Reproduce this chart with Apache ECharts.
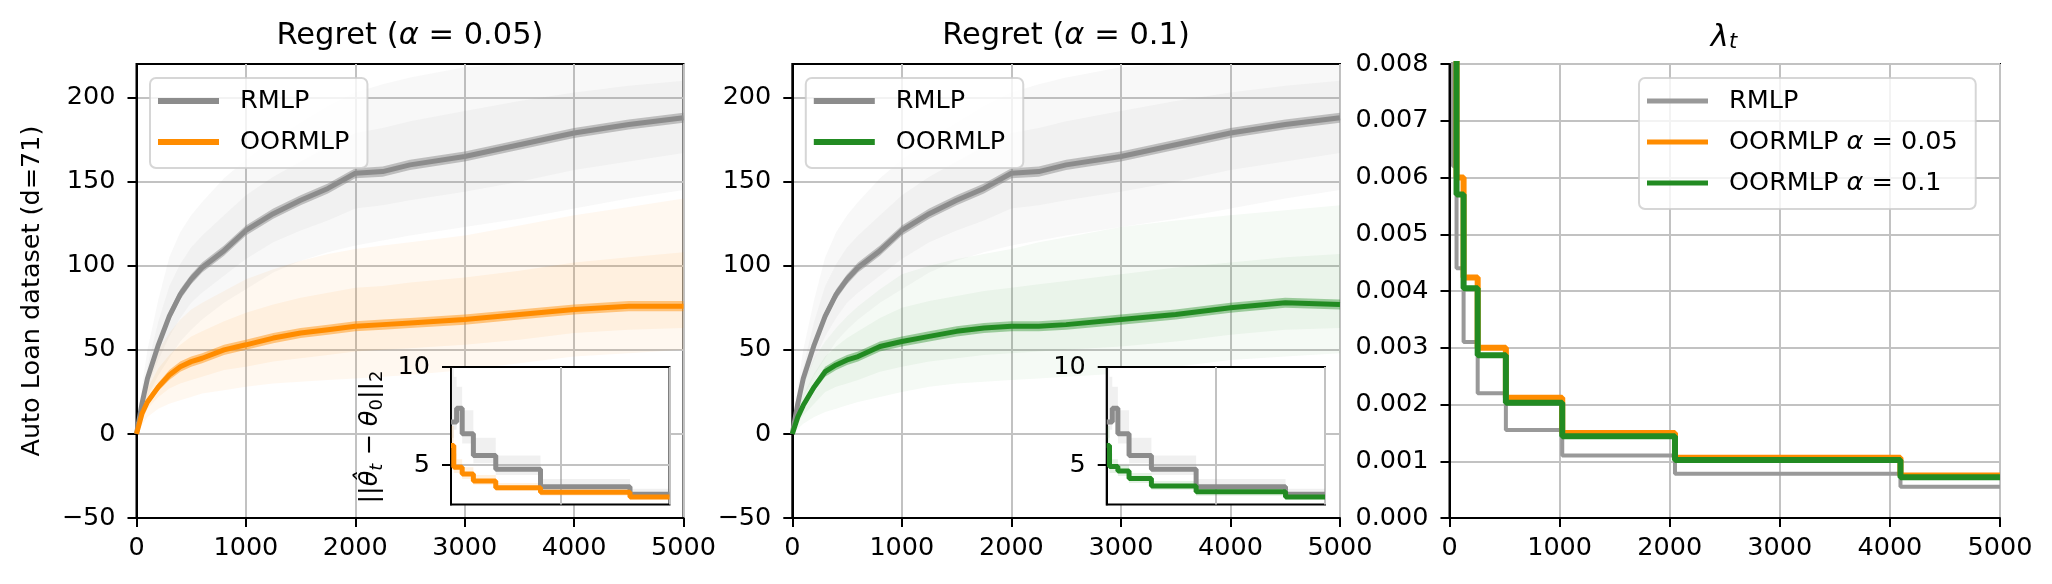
<!DOCTYPE html>
<html lang="en">
<head>
<meta charset="UTF-8">
<title>Regret / lambda</title>
<script src="https://cdn.jsdelivr.net/npm/echarts@6/dist/echarts.min.js"></script>
<style>
    html, body { margin: 0; padding: 0; background: #fff; }
    #main { width: 2052px; height: 584px; }
</style>
</head>
<body>
<div id="main"></div>
<script>
// ---------------- data ----------------
// regret curves (mean over runs), sampled at these rounds
var tGrid = [0, 50, 100, 200, 300, 400, 500, 600, 800, 1000, 1250, 1500, 1750, 2000, 2250, 2500, 3000, 3500, 4000, 4500, 5000];

var rmlpMean = [0, 18, 33, 53, 70, 83, 92, 99, 109, 121, 131, 139, 146, 155, 156, 160, 165, 172, 179, 184, 188];
var rmlpStd  = [0, 1.5, 2, 2.5, 3, 3, 3, 3, 3, 3, 3, 3, 3, 3, 3, 3, 3, 3, 3, 3, 3];
var rmlpLo   = [0, 10, 22, 35, 45, 55, 62, 68, 78, 86, 96, 103, 108, 112, 115, 118, 123, 128, 134, 140, 145];
var rmlpHi   = [0, 28, 50, 80, 105, 120, 130, 138, 152, 163, 175, 185, 195, 203, 208, 212, 218, 225, 228, 230, 232];
var rmlpQ1   = [0, 14, 28, 44, 58, 69, 78, 84, 94, 104, 114, 121, 127, 134, 136, 139, 144, 150, 157, 162, 167];
var rmlpQ3   = [0, 22, 40, 67, 88, 101, 111, 118, 130, 142, 153, 162, 171, 179, 182, 186, 192, 198, 203, 207, 210];

var oor05Mean = [0, 12, 19, 28, 35, 40, 43, 45, 50, 53, 57, 60, 62, 64, 65, 66, 68, 71, 74, 76, 76];
var oor05Std  = [0, 1.5, 2, 2.5, 3, 3, 3, 3, 3, 3, 3, 3, 3, 3, 3, 3, 3, 3, 3, 3, 3];
var oor05Lo   = [0, 5, 10, 15, 18, 20, 22, 24, 26, 28, 30, 31, 32, 33, 34, 35, 38, 42, 46, 48, 50];
var oor05Hi   = [0, 22, 35, 50, 60, 68, 74, 78, 85, 92, 98, 103, 107, 110, 112, 114, 118, 124, 130, 135, 140];
var oor05Q1   = [0, 8, 15, 22, 27, 30, 32, 34, 38, 40, 43, 45, 47, 49, 50, 51, 53, 56, 60, 62, 63];
var oor05Q3   = [0, 16, 27, 39, 47, 53, 58, 61, 67, 72, 77, 81, 84, 87, 88, 90, 93, 97, 102, 105, 108];

var oor01Mean = [0, 10, 17, 28, 37, 41, 44, 46, 52, 55, 58, 61, 63, 64, 64, 65, 68, 71, 75, 78, 77];
var oor01Std  = [0, 1.5, 2, 2.5, 3, 3, 3, 3, 3, 3, 3, 3, 3, 3, 3, 3, 3, 3, 3, 3, 3];
var oor01Lo   = [0, 3, 6, 10, 13, 15, 17, 19, 22, 25, 28, 30, 31, 32, 33, 34, 36, 40, 44, 46, 48];
var oor01Hi   = [0, 18, 30, 45, 55, 63, 70, 76, 86, 95, 100, 104, 107, 110, 114, 117, 123, 127, 130, 133, 136];
var oor01Q1   = [0, 6, 11, 18, 25, 28, 30, 32, 37, 40, 43, 45, 47, 48, 49, 50, 52, 55, 59, 62, 63];
var oor01Q3   = [0, 14, 23, 36, 46, 52, 57, 61, 69, 75, 79, 82, 85, 87, 89, 91, 95, 99, 102, 105, 107];

// inset: ||theta_hat_t - theta_0||_2, piecewise constant between these rounds
var insetT      = [0, 64, 128, 256, 512, 1024, 2048, 4096, 5000];
var rmlpNorm    = [7.2, 7.2, 7.9, 6.6, 5.5, 4.8, 3.9, 3.52, 3.52];
var rmlpNormLo  = [6.4, 6.8, 7.2, 6.1, 5.1, 4.5, 3.7, 3.35, 3.35];
var rmlpNormHi  = [10.5, 9.5, 9.0, 7.8, 6.4, 5.5, 4.3, 3.8, 3.8];
var oor05Norm   = [6.0, 4.9, 4.9, 4.55, 4.2, 3.85, 3.63, 3.38, 3.38];
var oor05NormLo = [5.0, 4.6, 4.6, 4.3, 4.0, 3.7, 3.45, 3.25, 3.25];
var oor05NormHi = [7.0, 5.6, 5.3, 4.9, 4.5, 4.1, 3.8, 3.55, 3.55];
var oor01Norm   = [6.0, 4.93, 4.93, 4.71, 4.33, 3.94, 3.65, 3.38, 3.38];
var oor01NormLo = [5.0, 4.6, 4.6, 4.45, 4.1, 3.75, 3.45, 3.25, 3.25];
var oor01NormHi = [7.0, 5.6, 5.3, 5.0, 4.6, 4.2, 3.85, 3.55, 3.55];

// lambda_t, piecewise constant
var lamTRmlp = [0, 32, 64, 128, 256, 512, 1024, 2048, 4096, 5000];
var lamRmlp  = [0.0095, 0.0062, 0.0044, 0.0031, 0.0022, 0.00155, 0.0011, 0.00078, 0.00055, 0.00055];
var lamTOor  = [0, 64, 128, 256, 512, 1024, 2048, 4096, 5000];
var lamOor05 = [0.0095, 0.0060, 0.00424, 0.0030, 0.00212, 0.0015, 0.00106, 0.00075, 0.00075];
var lamOor01 = [0.0095, 0.0057, 0.00405, 0.00287, 0.00203, 0.00144, 0.00102, 0.00072, 0.00072];

// tick labels
var roundTicks  = [0, 1000, 2000, 3000, 4000, 5000];
var regretTicks = [-50, 0, 50, 100, 150, 200];
var normTicks   = [5, 10];

// ---------------- style ----------------
var FONT = 'DejaVu Sans';
var FS = 25.5;
var GREY = '#8c8c8c', ORANGE = '#ff8c00', GREEN = '#228b22';
var GRIDC = '#c2c2c2';

function pairs(xs, ys) {
    return xs.map(function (x, i) { return [x, ys[i]]; });
}
function addSub(a, b, s) {
    return a.map(function (v, i) { return v + s * b[i]; });
}

// shaded band between lo and hi, drawn with the axis scales
function band(gi, xs, lo, hi, fill, z, step) {
    return {
        type: 'custom', xAxisIndex: gi, yAxisIndex: gi, z: z, silent: true,
        data: [[0, 0]],
        renderItem: function (params, api) {
            var top = [], bot = [];
            for (var i = 0; i < xs.length; i++) {
                if (step && i > 0) {
                    top.push(api.coord([xs[i], hi[i - 1]]));
                    bot.push(api.coord([xs[i], lo[i - 1]]));
                }
                top.push(api.coord([xs[i], hi[i]]));
                bot.push(api.coord([xs[i], lo[i]]));
            }
            var cs = params.coordSys;
            var pts = echarts.graphic.clipPointsByRect(top.concat(bot.reverse()),
                {x: cs.x, y: cs.y, width: cs.width, height: cs.height});
            return {type: 'polygon', shape: {points: pts}, style: {fill: fill}};
        }
    };
}

function meanLine(gi, name, xs, ys, color, width, z, step) {
    var s = {
        type: 'line', name: name, xAxisIndex: gi, yAxisIndex: gi, z: z,
        data: pairs(xs, ys), showSymbol: false, symbol: 'none', smooth: false,
        color: color, lineStyle: {color: color, width: width}, itemStyle: {color: color},
        clip: true, silent: true
    };
    if (step) s.step = 'end';
    return s;
}

function xAxisMain(gi) {
    return {
        type: 'value', gridIndex: gi, min: 0, max: 5000, interval: 1000,
        axisLine: {show: true, onZero: false, lineStyle: {color: '#000', width: 2}},
        axisTick: {show: true, length: 9, customValues: roundTicks, lineStyle: {color: '#000', width: 2}},
        axisLabel: {fontFamily: FONT, fontSize: FS, color: '#000', margin: 17, customValues: roundTicks,
            formatter: function (v) { return String(v); }},
        splitLine: {show: true, lineStyle: {color: GRIDC, width: 2}}
    };
}
function yAxisRegret(gi) {
    return {
        type: 'value', gridIndex: gi, min: -50, max: 220, interval: 50,
        axisLine: {show: true, onZero: false, lineStyle: {color: '#000', width: 2}},
        axisTick: {show: true, length: 9, customValues: regretTicks, lineStyle: {color: '#000', width: 2}},
        axisLabel: {
            fontFamily: FONT, fontSize: FS, color: '#000', margin: 21, customValues: regretTicks,
            formatter: function (v) { return v < 0 ? '\u2212' + Math.abs(v) : String(v); }
        },
        splitLine: {show: true, lineStyle: {color: GRIDC, width: 2}}
    };
}
function xAxisInset(gi) {
    return {
        type: 'value', gridIndex: gi, min: 0, max: 5000, interval: 2500, z: 11,
        axisLine: {show: false}, axisTick: {show: false}, axisLabel: {show: false},
        splitLine: {show: true, lineStyle: {color: GRIDC, width: 2}}
    };
}
function yAxisInset(gi) {
    return {
        type: 'value', gridIndex: gi, min: 3, max: 10, z: 11,
        axisLine: {show: true, onZero: false, lineStyle: {color: '#000', width: 2}},
        axisTick: {show: true, length: 9, customValues: normTicks, lineStyle: {color: '#000', width: 2}},
        axisLabel: {fontFamily: FONT, fontSize: FS, color: '#000', margin: 21, customValues: normTicks},
        splitLine: {show: false}
    };
}

var richText = {
    n: {fontFamily: FONT, fontSize: FS, color: '#000', lineHeight: 30},
    i: {fontFamily: FONT, fontSize: FS, fontStyle: 'italic', color: '#000', lineHeight: 30}
};
function legendBox(names, left, iconH) {
    return {
        data: names, orient: 'vertical', left: left, top: 78, z: 20,
        selectedMode: false, icon: 'rect', itemWidth: 61, itemHeight: iconH, itemGap: 11,
        padding: [8, 18, 11, 8],
        backgroundColor: 'rgba(255,255,255,0.8)', borderColor: 'rgba(204,204,204,0.8)',
        borderWidth: 2, borderRadius: 6,
        textStyle: {fontFamily: FONT, fontSize: FS, color: '#000', lineHeight: 30, padding: [0, 0, 0, 16], rich: richText},
        formatter: function (name) {
            var p = name.split('#');
            if (p[1] === 'a05') return '{n|OORMLP }{i|\u03b1}{n| = 0.05}';
            if (p[1] === 'a01') return '{n|OORMLP }{i|\u03b1}{n| = 0.1}';
            return p[0];
        }
    };
}

var titleRich = {
    n: {fontFamily: FONT, fontSize: 30.5, fill: '#000'},
    i: {fontFamily: FONT, fontSize: 30.5, fontStyle: 'italic', fill: '#000'},
    s: {fontFamily: FONT, fontSize: 21, fontStyle: 'italic', fill: '#000', lineHeight: 16, verticalAlign: 'bottom'}
};
var subRich = {
    a: {fontFamily: FONT, fontSize: FS, fill: '#000', lineHeight: 32},
    i: {fontFamily: FONT, fontSize: FS, fontStyle: 'italic', fill: '#000', lineHeight: 32},
    si: {fontFamily: FONT, fontSize: 18, fontStyle: 'italic', fill: '#000', lineHeight: 14, verticalAlign: 'bottom'},
    s: {fontFamily: FONT, fontSize: 18, fill: '#000', lineHeight: 14, verticalAlign: 'bottom'}
};

var series = [
    // left panel: alpha = 0.05
    band(0, tGrid, rmlpLo, rmlpHi, 'rgba(128,128,128,0.06)', 1),
    band(0, tGrid, rmlpQ1, rmlpQ3, 'rgba(128,128,128,0.06)', 1),
    band(0, tGrid, oor05Lo, oor05Hi, 'rgba(255,140,0,0.06)', 1),
    band(0, tGrid, oor05Q1, oor05Q3, 'rgba(255,140,0,0.07)', 1),
    band(0, tGrid, addSub(rmlpMean, rmlpStd, -1), addSub(rmlpMean, rmlpStd, 1), 'rgba(128,128,128,0.45)', 2),
    band(0, tGrid, addSub(oor05Mean, oor05Std, -1), addSub(oor05Mean, oor05Std, 1), 'rgba(255,140,0,0.45)', 2),
    meanLine(0, 'RMLP#1', tGrid, rmlpMean, GREY, 5, 3),
    meanLine(0, 'OORMLP#1', tGrid, oor05Mean, ORANGE, 5, 3),

    // middle panel: alpha = 0.1
    band(1, tGrid, rmlpLo, rmlpHi, 'rgba(128,128,128,0.06)', 1),
    band(1, tGrid, rmlpQ1, rmlpQ3, 'rgba(128,128,128,0.06)', 1),
    band(1, tGrid, oor01Lo, oor01Hi, 'rgba(34,139,34,0.045)', 1),
    band(1, tGrid, oor01Q1, oor01Q3, 'rgba(34,139,34,0.05)', 1),
    band(1, tGrid, addSub(rmlpMean, rmlpStd, -1), addSub(rmlpMean, rmlpStd, 1), 'rgba(128,128,128,0.45)', 2),
    band(1, tGrid, addSub(oor01Mean, oor01Std, -1), addSub(oor01Mean, oor01Std, 1), 'rgba(34,139,34,0.4)', 2),
    meanLine(1, 'RMLP#2', tGrid, rmlpMean, GREY, 5, 3),
    meanLine(1, 'OORMLP#2', tGrid, oor01Mean, GREEN, 5, 3),

    // right panel: lambda_t
    meanLine(2, 'RMLP#3', lamTRmlp, lamRmlp, '#999999', 4, 3, true),
    meanLine(2, 'OORMLP#a05', lamTOor, lamOor05, ORANGE, 6, 4, true),
    meanLine(2, 'OORMLP#a01', lamTOor, lamOor01, GREEN, 6, 5, true),

    // insets
    band(3, insetT, rmlpNormLo, rmlpNormHi, 'rgba(128,128,128,0.12)', 12, true),
    band(3, insetT, oor05NormLo, oor05NormHi, 'rgba(255,140,0,0.12)', 12, true),
    meanLine(3, 'norm-rmlp-1', insetT, rmlpNorm, GREY, 5, 13, true),
    meanLine(3, 'norm-oor-1', insetT, oor05Norm, ORANGE, 5, 13, true),
    band(4, insetT, rmlpNormLo, rmlpNormHi, 'rgba(128,128,128,0.12)', 12, true),
    band(4, insetT, oor01NormLo, oor01NormHi, 'rgba(34,139,34,0.12)', 12, true),
    meanLine(4, 'norm-rmlp-2', insetT, rmlpNorm, GREY, 5, 13, true),
    meanLine(4, 'norm-oor-2', insetT, oor01Norm, GREEN, 5, 13, true)
];
// horizontal inset grid line at 5
[21, 25].forEach(function (k) {
    series[k].markLine = {
        silent: true, symbol: 'none', z: 11, animation: false,
        label: {show: false},
        lineStyle: {color: GRIDC, width: 2, type: 'solid'},
        data: [{yAxis: 5}]
    };
});

var chart = echarts.init(document.getElementById('main'), null, {renderer: 'canvas'});
var gridBox = {show: true, borderColor: '#000', borderWidth: 2, backgroundColor: 'transparent'};
chart.setOption({
    animation: false,
    backgroundColor: '#fff',
    grid: [
        Object.assign({left: 136.5, top: 64, width: 547, height: 454}, gridBox),
        Object.assign({left: 792.3, top: 64, width: 547.7, height: 454}, gridBox),
        Object.assign({left: 1449.5, top: 64, width: 550.5, height: 454}, gridBox),
        {left: 451, top: 367, width: 218.5, height: 137.5, show: true, z: 10,
            backgroundColor: '#fff', borderColor: '#000', borderWidth: 2},
        {left: 1106.7, top: 367, width: 218.3, height: 137.5, show: true, z: 10,
            backgroundColor: '#fff', borderColor: '#000', borderWidth: 2}
    ],
    xAxis: [xAxisMain(0), xAxisMain(1), xAxisMain(2), xAxisInset(3), xAxisInset(4)],
    yAxis: [
        yAxisRegret(0),
        yAxisRegret(1),
        {
            type: 'value', gridIndex: 2, min: 0, max: 0.008, interval: 0.001,
            axisLine: {show: true, onZero: false, lineStyle: {color: '#000', width: 2}},
            axisTick: {show: true, length: 9, lineStyle: {color: '#000', width: 2}},
            axisLabel: {fontFamily: FONT, fontSize: FS, color: '#000', margin: 21,
                formatter: function (v) { return v.toFixed(3); }},
            splitLine: {show: true, lineStyle: {color: GRIDC, width: 2}}
        },
        yAxisInset(3),
        yAxisInset(4)
    ],
    legend: [
        legendBox(['RMLP#1', 'OORMLP#1'], 150, 6),
        legendBox(['RMLP#2', 'OORMLP#2'], 805.8, 6),
        legendBox(['RMLP#3', 'OORMLP#a05', 'OORMLP#a01'], 1639, 5)
    ],
    graphic: [
        {type: 'text', x: 410, y: 36, z: 30,
            style: {text: '{n|Regret (}{i|\u03b1}{n| = 0.05)}', rich: titleRich, align: 'center', verticalAlign: 'middle'}},
        {type: 'text', x: 1066, y: 36, z: 30,
            style: {text: '{n|Regret (}{i|\u03b1}{n| = 0.1)}', rich: titleRich, align: 'center', verticalAlign: 'middle'}},
        {type: 'text', x: 1724, y: 38, z: 30,
            style: {text: '{i|\u03bb}{s|t}', rich: titleRich, align: 'center', verticalAlign: 'middle'}},
        {type: 'text', x: 32, y: 291, z: 30, rotation: Math.PI / 2,
            style: {text: 'Auto Loan dataset (d=71)', font: FS + 'px "' + FONT + '"', fill: '#000',
                align: 'center', verticalAlign: 'middle'}},
        {type: 'text', x: 370, y: 437, z: 30, rotation: Math.PI / 2,
            style: {text: '{a|||}{i|\u03b8\u0302}{si|t}{a| \u2212 }{i|\u03b8}{s|0}{a|||}{s|2}',
                rich: subRich, align: 'center', verticalAlign: 'middle'}}
    ],
    series: series
});
</script>
</body>
</html>
